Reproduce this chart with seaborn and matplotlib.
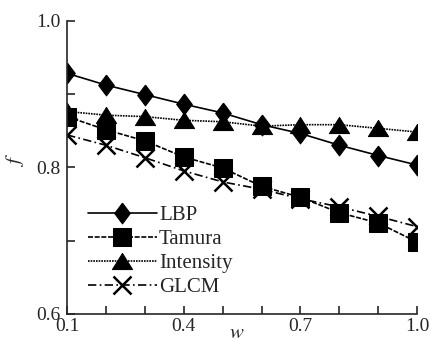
import matplotlib
matplotlib.use("Agg")
import matplotlib.pyplot as plt
from matplotlib.ticker import MultipleLocator, FixedLocator
import seaborn as sns
import pandas as pd

# weight w on the x axis
w = [0.1, 0.2, 0.3, 0.4, 0.5, 0.6, 0.7, 0.8, 0.9, 1.0]

# f values
lbp = [0.928, 0.912, 0.899, 0.886, 0.874, 0.858, 0.846, 0.830, 0.816, 0.803]
tamura = [0.869, 0.851, 0.836, 0.814, 0.799, 0.774, 0.759, 0.738, 0.724, 0.698]
intensity = [0.876, 0.871, 0.869, 0.864, 0.862, 0.856, 0.858, 0.858, 0.853, 0.848]
glcm = [0.844, 0.830, 0.813, 0.795, 0.780, 0.770, 0.757, 0.746, 0.733, 0.719]

series_names = ["LBP", "Tamura", "Intensity", "GLCM"]

sns.set_style("ticks")
plt.rcParams["font.family"] = ["Liberation Serif", "DejaVu Serif"]
plt.rcParams["mathtext.fontset"] = "stix"

fig = plt.figure(figsize=(4.3, 3.42), dpi=100)
ax = fig.add_axes([0.156, 0.082, 0.814, 0.858])

# a diamond a bit taller than wide, and a flat triangle, like the reference
diamond = [(0, 1), (0.75, 0), (0, -1), (-0.75, 0), (0, 1)]
triangle = [(0, 0.8), (1, -0.8), (-1, -0.8), (0, 0.8)]

styles = {
    "LBP": dict(marker=diamond, markersize=15, linestyle="-"),
    "Tamura": dict(marker="s", markersize=13, linestyle=(0, (3, 1))),
    "Intensity": dict(marker=triangle, markersize=14.5, linestyle=(0, (1, 0.6))),
    "GLCM": dict(marker="x", markersize=12.5, markeredgewidth=1.8, linestyle=(0, (5, 2, 1, 2))),
}
values = {"LBP": lbp, "Tamura": tamura, "Intensity": intensity, "GLCM": glcm}

for name in series_names:
    df = pd.DataFrame({"w": w, "f": values[name]})
    sns.lineplot(data=df, x="w", y="f", ax=ax, color="black", linewidth=1.2,
                 markeredgecolor="black", label=name, **styles[name])

ax.set_xlim(0.1, 1.0)
ax.set_ylim(0.6, 1.0)
ax.xaxis.set_major_locator(FixedLocator([0.1, 0.4, 0.7, 1.0]))
ax.xaxis.set_minor_locator(MultipleLocator(0.1))
ax.yaxis.set_major_locator(FixedLocator([0.6, 0.8, 1.0]))
ax.yaxis.set_minor_locator(MultipleLocator(0.1))
ax.set_xticklabels(["0.1", "0.4", "0.7", "1.0"])
ax.set_yticklabels(["0.6", "0.8", "1.0"])
ax.tick_params(which="both", direction="in", length=6, width=1.2, labelsize=14)
ax.tick_params(axis="y", pad=5)
ax.tick_params(axis="x", pad=3)

for side in ["top", "right"]:
    ax.spines[side].set_visible(False)
for side in ["left", "bottom"]:
    ax.spines[side].set_linewidth(1.2)

ax.set_xlabel("$w$", fontsize=15)
ax.set_ylabel("$f$", fontsize=15)
ax.xaxis.set_label_coords(0.486, -0.034)
ax.yaxis.set_label_coords(-0.118, 0.524)

leg = ax.legend(loc="upper left", bbox_to_anchor=(0.06, 0.37), frameon=False,
                fontsize=15, handlelength=3.3, handletextpad=0.1, labelspacing=0.22,
                borderaxespad=0, borderpad=0)

fig.savefig("out.png", dpi=100)
